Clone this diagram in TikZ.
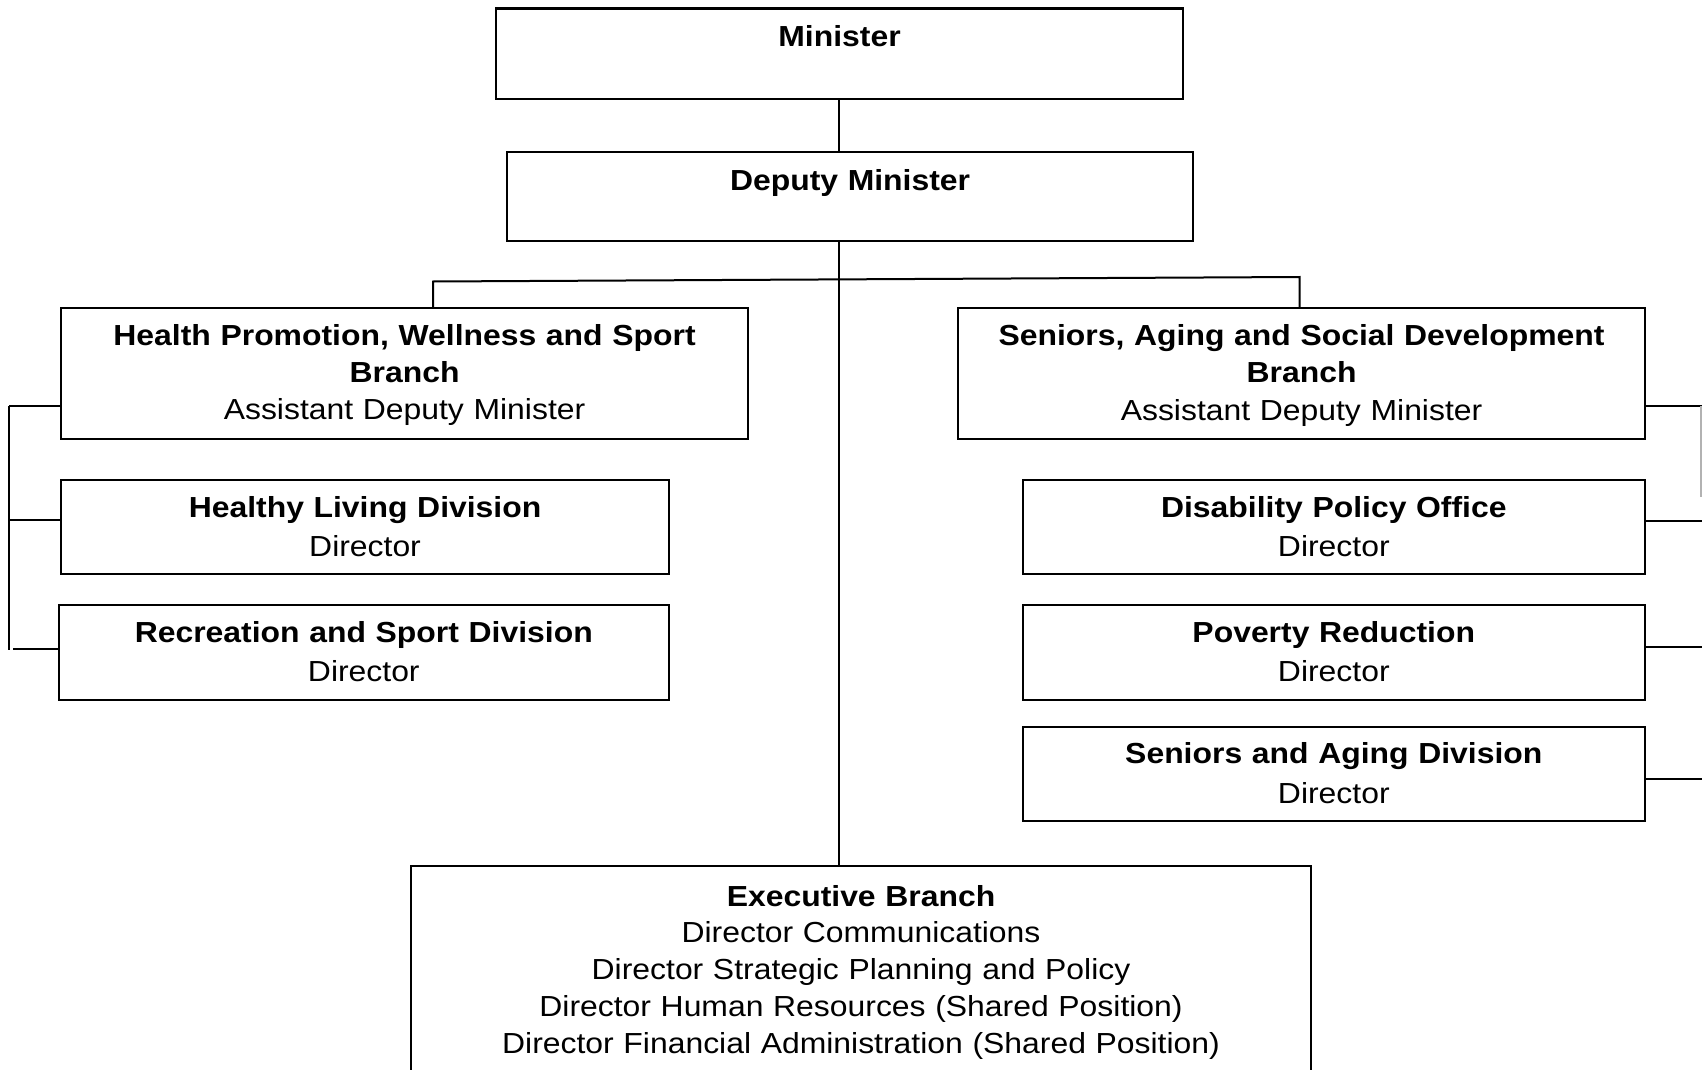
\documentclass[tikz,border=0pt]{standalone}
\usepackage{fontspec}
\setmainfont{Liberation Sans}[FakeStretch=1.1]
\begin{document}
\begin{tikzpicture}[x=1pt,y=-1pt,
  box/.style={draw=black, line width=2.1pt, inner sep=0pt, align=center, anchor=north west,
    font=\fontsize{29pt}{36.8pt}\selectfont},
  link/.style={draw=black, line width=2pt}]
\useasboundingbox[fill=white] (0,0) rectangle (1702,1070);

% boxes
\node[box, text width=687pt, text height=38.2pt, text depth=52.3pt] (min) at (495,7.5) {\textbf{Minister}};
\node[box, text width=686pt, text height=38pt, text depth=51pt] (dep) at (506,151) {\textbf{Deputy Minister}};
\node[box, text width=687pt, text height=37.7pt, text depth=92.8pt] (hp) at (60,307)
  {\textbf{Health Promotion, Wellness and Sport}\\\textbf{Branch}\\Assistant Deputy Minister};
\node[box, text width=608pt, text height=37pt, text depth=57pt] (hl) at (60,479)
  {\textbf{Healthy Living Division}\\[3pt]Director};
\node[box, text width=610.5pt, text height=37pt, text depth=57.5pt] (rs) at (57.5,604)
  {\textbf{Recreation and Sport Division}\\[3pt]Director};
\node[box, text width=687pt, text height=37.7pt, text depth=92.8pt] (sb) at (957,307)
  {\textbf{Seniors, Aging and Social Development}\\\textbf{Branch}\\[1pt]Assistant Deputy Minister};
\node[box, text width=622.5pt, text height=37.5pt, text depth=57pt] (dp) at (1021.5,478.5)
  {\textbf{Disability Policy Office}\\[3pt]Director};
\node[box, text width=622.5pt, text height=37pt, text depth=57.5pt] (pr) at (1021.5,604)
  {\textbf{Poverty Reduction}\\[3pt]Director};
\node[box, text width=622.5pt, text height=37pt, text depth=56.8pt] (sa) at (1021.5,725.7)
  {\textbf{Seniors and Aging Division}\\[3pt]Director};
\node[box, text width=900pt, text height=40pt, text depth=195pt] (ex) at (410,865)
  {\textbf{Executive Branch}\\Director Communications\\Director Strategic Planning and Policy\\
   Director Human Resources (Shared Position)\\Director Financial Administration (Shared Position)};

% spine
\coordinate (spine) at (838.5,0);
\draw[link] (min.south -| spine) -- (dep.north -| spine);
\draw[link] (dep.south -| spine) -- (ex.north -| spine);

% bus to branches
\coordinate (busL) at (433,281.5);
\coordinate (busR) at (1299.5,277);
\draw[link] (hp.north -| busL) -- (busL) -- (busR) -- (sb.north -| busR);

% left bracket
\coordinate (lbT) at (9,406);
\coordinate (lbB) at (9,650);
\draw[link] (lbT) -- (lbB);
\draw[link] (lbT) -- (hp.west |- lbT);
\draw[link] (9,520) -- (hl.west |- 0,520);
\draw[link] (13,649.3) -- (rs.west |- 0,649.3);

% right bracket
\coordinate (rb1) at (1702,406);
\coordinate (rb2) at (1702,521);
\coordinate (rb3) at (1702,647);
\coordinate (rb4) at (1702,779);
\draw[link] (sb.east |- rb1) -- (rb1);
\draw[link] (dp.east |- rb2) -- (rb2);
\draw[link] (pr.east |- rb3) -- (rb3);
\draw[link] (sa.east |- rb4) -- (rb4);
\draw[draw=gray!60, line width=1.2pt] (1701,406) -- (1701,497);
\end{tikzpicture}
\end{document}
